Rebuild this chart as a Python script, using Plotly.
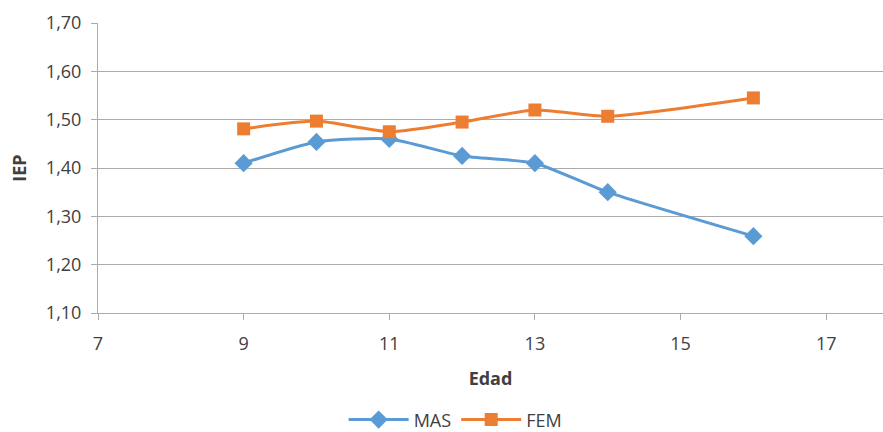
import plotly.graph_objects as go

# Age (years) and IEP index by sex
edad_mas = [9, 10, 11, 12, 13, 14, 16]
iep_mas = [1.410, 1.454, 1.460, 1.425, 1.410, 1.350, 1.259]

edad_fem = [9, 10, 11, 12, 13, 14, 16]
iep_fem = [1.481, 1.497, 1.475, 1.495, 1.520, 1.507, 1.545]

x_ticks = [7, 9, 11, 13, 15, 17]
y_ticks = [1.10, 1.20, 1.30, 1.40, 1.50, 1.60, 1.70]

BLUE = "#5B9BD5"
ORANGE = "#ED7D31"
GRID = "#ababab"
TEXT = "#404040"
FONT = "Open Sans"

fig = go.Figure()
fig.add_trace(go.Scatter(
    x=edad_mas, y=iep_mas, name="MAS", mode="lines+markers",
    line=dict(color=BLUE, width=3, shape="spline", smoothing=0.6),
    marker=dict(symbol="diamond", size=14, color=BLUE),
))
fig.add_trace(go.Scatter(
    x=edad_fem, y=iep_fem, name="FEM", mode="lines+markers",
    line=dict(color=ORANGE, width=3, shape="spline", smoothing=0.6),
    marker=dict(symbol="square", size=13, color=ORANGE),
))

fig.update_layout(
    width=883, height=432,
    margin=dict(l=98, r=0, t=23, b=119),
    paper_bgcolor="white", plot_bgcolor="white",
    separators=",.",
    font=dict(family=FONT, size=18, color=TEXT),
    showlegend=True,
    legend=dict(
        orientation="h", xref="container", yref="container",
        x=0.516, y=0.028, xanchor="center", yanchor="middle",
        font=dict(family=FONT, size=18, color=TEXT),
        itemwidth=60, tracegroupgap=0,
    ),
)

fig.update_xaxes(
    range=[7, 17.78], tickvals=x_ticks, ticktext=[str(v) for v in x_ticks],
    showgrid=False, zeroline=False,
    showline=True, linecolor=GRID, linewidth=1,
    ticks="outside", ticklen=6, tickcolor=GRID,
    ticklabelstandoff=8,
    tickfont=dict(size=18, color=TEXT),
    title=dict(text="<b>Edad</b>", font=dict(size=18, color=TEXT), standoff=18),
)
fig.update_yaxes(
    range=[1.10, 1.70], tickvals=y_ticks, tickformat=".2f",
    showgrid=True, gridcolor=GRID, gridwidth=1, zeroline=False,
    showline=True, linecolor=GRID, linewidth=1,
    ticks="outside", ticklen=6, tickcolor=GRID,
    ticklabelstandoff=6,
    tickfont=dict(size=18, color=TEXT),
    title=dict(text="<b>IEP</b>", font=dict(size=18, color=TEXT), standoff=14),
)

fig.write_html("out.html")
